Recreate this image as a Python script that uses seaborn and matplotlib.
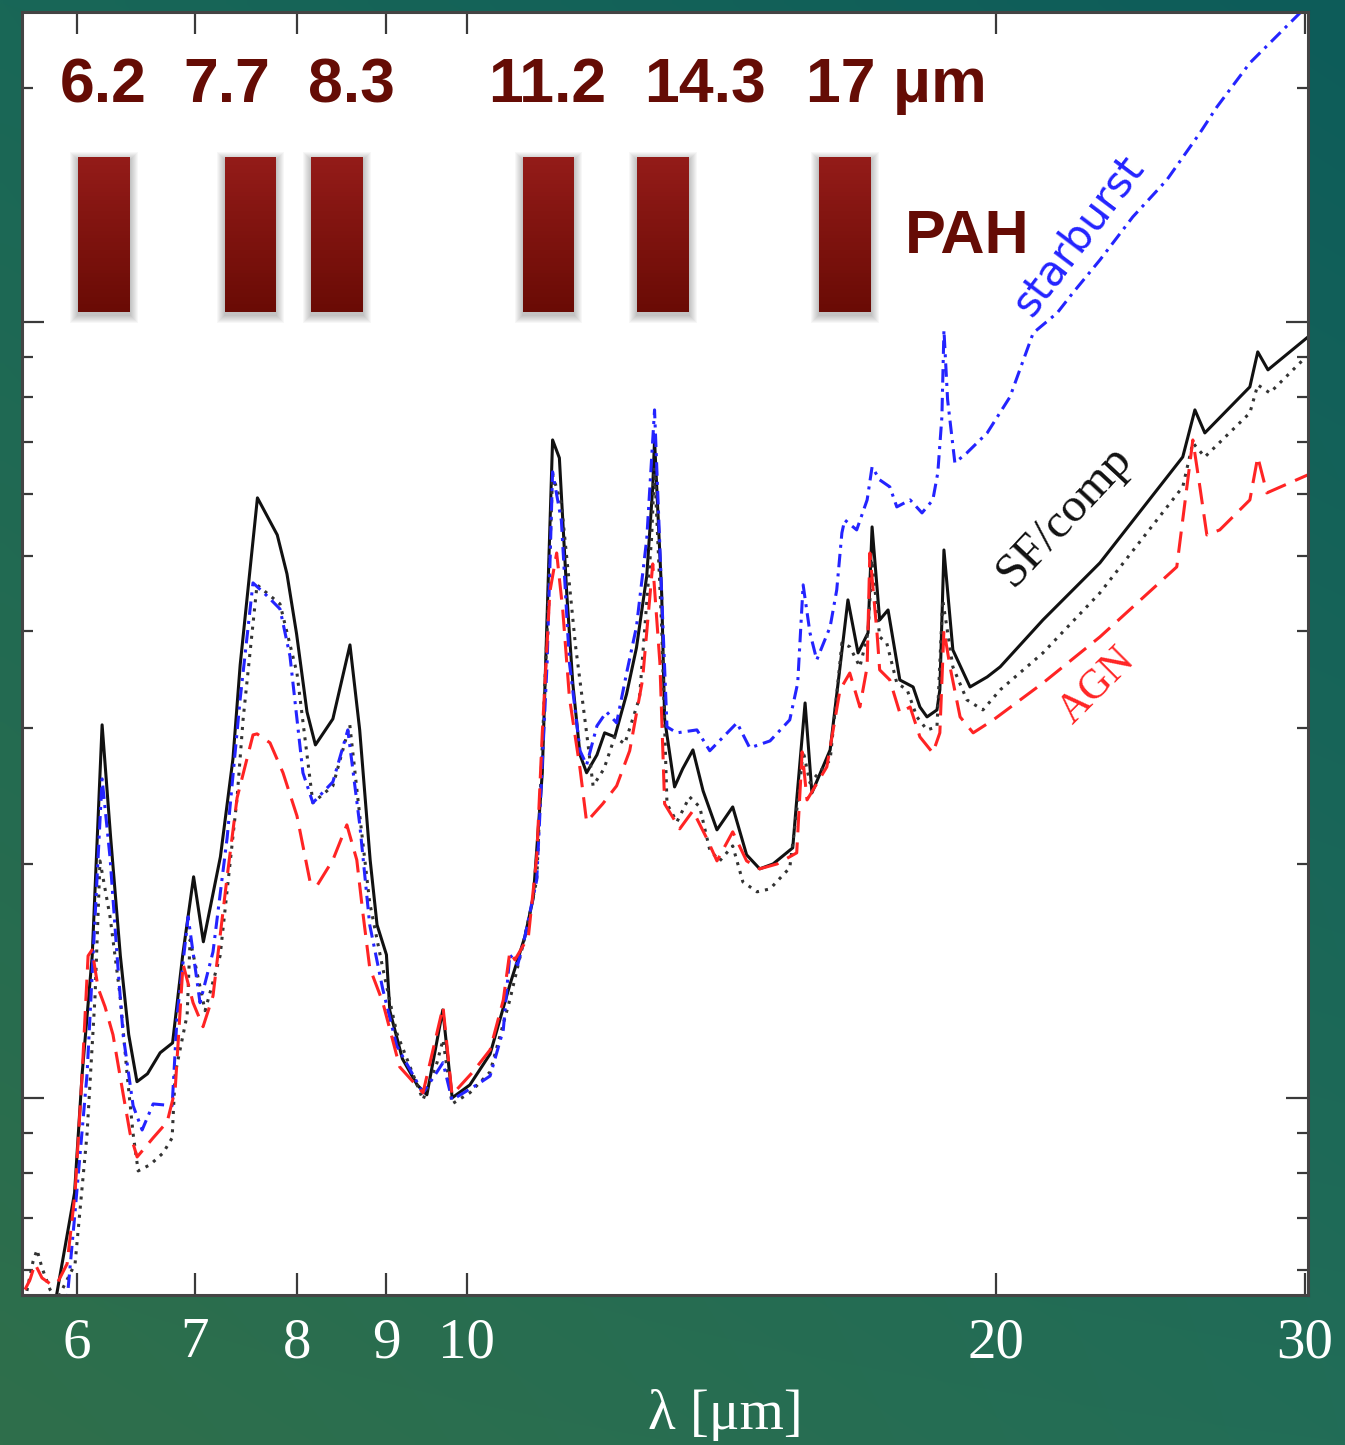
import numpy as np
import pandas as pd
import matplotlib
matplotlib.use("Agg")
import matplotlib.pyplot as plt
import seaborn as sns
from matplotlib.patches import Rectangle
from matplotlib.ticker import FixedLocator, NullLocator, FixedFormatter, LogLocator, NullFormatter
from matplotlib.colors import to_rgb

# ---------------- data ----------------
sf_wave = [5.66, 5.84, 5.98, 6.04, 6.12, 6.20, 6.27, 6.35, 6.42, 6.49, 6.58, 6.69, 6.80, 6.89, 6.99,
           7.08, 7.24, 7.36, 7.43, 7.60, 7.80, 7.90, 8.00, 8.11, 8.20, 8.39, 8.58, 8.69, 8.81, 8.89,
           9.00, 9.04, 9.19, 9.37, 9.49, 9.69, 9.81, 10.04, 10.31, 10.58, 10.79, 10.91, 11.04, 11.12,
           11.19, 11.29, 11.40, 11.49, 11.60, 11.70, 11.86, 11.98, 12.14, 12.33, 12.49, 12.66, 12.76,
           12.79, 12.91, 12.96, 13.13, 13.27, 13.45, 13.63, 13.88, 14.17, 14.43, 14.68, 14.94, 15.33,
           15.41, 15.58, 15.72, 16.10, 16.31, 16.48, 16.70, 16.92, 17.01, 17.18, 17.37, 17.64, 17.95,
           18.11, 18.28, 18.52, 18.59, 18.69, 18.91, 19.34, 19.78, 20.12, 21.28, 22.93, 25.56, 25.97,
           26.31, 27.91, 28.20, 28.58, 30.12]
sf_flux = [0.502, 0.556, 0.754, 1.074, 1.524, 3.025, 2.163, 1.524, 1.206, 1.049, 1.074, 1.143, 1.177,
           1.524, 1.927, 1.589, 2.045, 2.735, 3.614, 5.933, 5.315, 4.734, 3.963, 3.144, 2.850, 3.079,
           3.835, 2.980, 2.026, 1.671, 1.529, 1.295, 1.123, 1.039, 1.009, 1.298, 1.000, 1.039, 1.139,
           1.398, 1.612, 1.810, 2.624, 4.462, 7.046, 6.679, 4.462, 3.425, 2.767, 2.624, 2.767, 2.954,
           2.919, 3.316, 3.801, 4.706, 6.130, 7.046, 4.462, 3.079, 2.516, 2.655, 2.808, 2.487, 2.215,
           2.371, 2.057, 1.973, 2.002, 2.100, 2.421, 3.228, 2.472, 2.808, 3.593, 4.383, 3.745, 3.975,
           5.443, 4.130, 4.254, 3.456, 3.385, 3.190, 3.097, 3.162, 3.356, 5.083, 3.778, 3.385, 3.487,
           3.593, 4.130, 4.892, 6.699, 7.703, 7.194, 8.247, 9.150, 8.675, 9.565]

all_wave = [5.604, 5.663, 5.693, 5.730, 5.791, 5.844, 5.984, 6.079, 6.143, 6.183, 6.265, 6.348, 6.406,
            6.457, 6.500, 6.603, 6.716, 6.796, 6.823, 6.931, 6.958, 7.096, 7.237, 7.400, 7.458, 7.596,
            7.828, 8.004, 8.173, 8.390, 8.578, 8.691, 8.805, 8.956, 9.122, 9.442, 9.617, 9.693, 9.808,
            10.04, 10.31, 10.58, 10.79, 10.96, 11.11, 11.19, 11.32, 11.53, 11.70, 11.80, 11.97, 12.14,
            12.30, 12.54, 12.74, 12.79, 12.91, 13.00, 13.17, 13.39, 13.57, 13.75, 13.93, 14.17, 14.36,
            14.63, 14.88, 15.27, 15.47, 15.54, 15.68, 16.10, 16.35, 16.52, 16.74, 16.92, 17.01, 17.18,
            17.34, 17.57, 17.81, 18.04, 18.28, 18.52, 18.66, 18.91, 19.26, 19.67, 20.12, 21.28, 22.93,
            25.56, 25.90, 26.31, 27.91, 28.20, 28.65, 29.92, 30.12]
all_flux = [0.549, 0.615, 0.637, 0.604, 0.566, 0.549, 0.611, 0.899, 1.353, 2.020, 1.711, 1.353, 1.074,
            0.899, 0.805, 0.820, 0.849, 0.888, 1.074, 1.279, 1.598, 1.295, 1.524, 2.436, 3.070, 4.583,
            4.331, 3.528, 2.400, 2.524, 3.025, 2.309, 1.784, 1.471, 1.213, 0.994, 1.110, 1.188, 0.982,
            1.015, 1.080, 1.337, 1.612, 1.910, 4.010, 6.353, 5.829, 3.835, 2.954, 2.524, 2.655, 2.919,
            2.859, 3.278, 5.253, 6.487, 4.046, 2.393, 2.268, 2.443, 2.371, 2.087, 2.020, 2.112, 1.898,
            1.843, 1.859, 1.979, 2.524, 2.801, 2.546, 2.726, 3.857, 3.813, 3.593, 3.975, 4.935, 3.927,
            3.857, 3.425, 3.356, 3.097, 2.980, 3.007, 4.383, 3.593, 3.258, 3.162, 3.356, 3.745, 4.475,
            6.130, 6.985, 6.699, 7.634, 8.296, 8.101, 8.933, 9.013]

sb_wave = [5.753, 5.922, 5.984, 6.079, 6.143, 6.200, 6.265, 6.323, 6.373, 6.457, 6.534, 6.629, 6.796,
           6.841, 6.940, 7.049, 7.170, 7.304, 7.429, 7.556, 7.696, 7.828, 7.931, 8.067, 8.173, 8.390,
           8.556, 8.691, 8.805, 8.956, 9.122, 9.442, 9.617, 9.693, 9.808, 10.13, 10.31, 10.49, 10.58,
           10.69, 10.79, 10.96, 11.11, 11.19, 11.32, 11.44, 11.60, 11.70, 11.86, 12.01, 12.17, 12.33,
           12.49, 12.66, 12.79, 12.91, 13.00, 13.17, 13.52, 13.75, 14.25, 14.49, 14.88, 15.27, 15.43,
           15.54, 15.68, 15.82, 16.10, 16.24, 16.35, 16.41, 16.67, 16.90, 17.01, 17.18, 17.41, 17.57,
           17.88, 18.16, 18.42, 18.54, 18.64, 18.69, 18.78, 18.96, 19.26, 19.78, 20.38, 21.01, 21.68,
           22.13, 22.93, 23.94, 25.03, 26.14, 26.73, 27.91, 29.80, 30.12]
sb_flux = [0.488, 0.549, 0.713, 1.074, 1.711, 2.577, 2.038, 1.524, 1.206, 0.977, 0.909, 0.982, 0.977,
           1.279, 1.711, 1.326, 1.542, 2.163, 3.258, 4.610, 4.436, 4.267, 3.711, 2.624, 2.400, 2.554,
           2.980, 2.248, 1.671, 1.382, 1.167, 1.015, 1.080, 1.110, 0.994, 1.039, 1.067, 1.224, 1.529,
           1.484, 1.612, 1.910, 3.636, 6.409, 5.541, 3.636, 2.801, 2.686, 3.016, 3.144, 3.043, 3.528,
           4.046, 5.253, 7.703, 4.462, 3.007, 2.954, 2.980, 2.801, 3.043, 2.825, 2.884, 3.070, 3.425,
           4.583, 3.975, 3.668, 4.046, 4.515, 5.347, 5.557, 5.395, 5.897, 6.505, 6.259, 6.130, 5.776,
           5.897, 5.674, 5.897, 6.390, 7.544, 9.766, 7.935, 6.582, 6.780, 7.194, 8.006, 9.679, 10.27,
           10.90, 12.02, 13.66, 15.24, 17.52, 18.93, 21.57, 25.01, 25.39]

agn_wave = [5.604, 5.641, 5.678, 5.730, 5.791, 5.844, 5.922, 5.984, 6.040, 6.087, 6.119, 6.167, 6.224,
            6.289, 6.373, 6.432, 6.491, 6.629, 6.752, 6.823, 6.894, 6.985, 7.077, 7.170, 7.304, 7.400,
            7.556, 7.596, 7.726, 7.859, 8.004, 8.141, 8.216, 8.390, 8.545, 8.657, 8.725, 8.805, 8.956,
            9.158, 9.442, 9.693, 9.808, 10.08, 10.31, 10.49, 10.58, 10.65, 10.84, 10.96, 11.04, 11.15,
            11.25, 11.34, 11.44, 11.60, 11.70, 11.95, 12.17, 12.38, 12.59, 12.76, 12.88, 12.96, 13.22,
            13.45, 13.70, 13.88, 14.17, 14.43, 14.68, 15.02, 15.41, 15.52, 15.62, 16.03, 16.31, 16.52,
            16.74, 16.90, 16.96, 17.12, 17.18, 17.41, 17.64, 17.88, 18.11, 18.42, 18.59, 18.69, 18.84,
            19.09, 19.42, 19.94, 21.28, 22.93, 25.36, 25.90, 26.14, 26.38, 26.83, 27.91, 28.20, 28.54,
            30.12]
agn_flux = [0.566, 0.583, 0.611, 0.586, 0.576, 0.576, 0.611, 0.754, 1.074, 1.524, 1.551, 1.386, 1.310,
            1.206, 1.012, 0.899, 0.839, 0.888, 0.931, 1.024, 1.488, 1.326, 1.235, 1.353, 1.927, 2.436,
            2.936, 2.945, 2.868, 2.624, 2.309, 1.904, 1.876, 2.026, 2.248, 2.026, 1.736, 1.471, 1.329,
            1.096, 1.015, 1.310, 1.009, 1.080, 1.153, 1.337, 1.542, 1.506, 1.612, 2.045, 2.954, 4.488,
            5.038, 4.254, 3.278, 2.655, 2.268, 2.393, 2.524, 2.801, 3.456, 4.877, 3.636, 2.393, 2.222,
            2.344, 2.157, 2.020, 2.202, 2.020, 1.973, 2.002, 2.069, 2.792, 2.421, 2.670, 3.356, 3.528,
            3.190, 3.593, 5.038, 3.975, 3.561, 3.456, 3.134, 3.190, 2.919, 2.783, 2.954, 4.010, 3.593,
            3.097, 2.954, 3.070, 3.425, 3.927, 4.834, 7.046, 6.130, 5.315, 5.395, 5.897, 6.699, 6.021,
            6.353]

templates = ["SF/comp", "all", "starburst", "AGN"]
xtick_values = [6, 7, 8, 9, 10, 20, 30]
xtick_labels = ["6", "7", "8", "9", "10", "20", "30"]
pah_labels = ["6.2", "7.7", "8.3", "11.2", "14.3", "17 μm"]

# ---------------- styling / layout constants ----------------
W, H = 1345, 1445
palette = {"SF/comp": "#111111", "all": "#333333", "starburst": "#2424ff", "AGN": "#ff2424"}
dash_map = {"SF/comp": "", "all": (1.0, 2.0), "starburst": (4.4, 2.0, 1.0, 2.0), "AGN": (7.0, 3.3)}
pah_label_x = [0.063, 0.1594, 0.2558, 0.4082, 0.5311, 0.6796]
pah_bar_x = [0.0634, 0.1777, 0.2453, 0.4094, 0.4988, 0.6396]
bar_w, bar_y0, bar_y1 = 0.0404, 0.766, 0.887
dark_red = "#650c05"

sns.set_theme(style="white")
plt.rcParams['font.family'] = ['DejaVu Sans']

fig = plt.figure(figsize=(W / 100, H / 100), dpi=100)

# gradient background
bg = fig.add_axes([0, 0, 1, 1], zorder=-10)
tl, tr = np.array(to_rgb("#196757")), np.array(to_rgb("#0d5c5a"))
bl, br = np.array(to_rgb("#2f6f4b")), np.array(to_rgb("#226d57"))
u = np.linspace(0, 1, 200)[None, :, None]
v = np.linspace(0, 1, 200)[:, None, None]
grad = (1 - v) * ((1 - u) * tl + u * tr) + v * ((1 - u) * bl + u * br)
bg.imshow(grad, extent=[0, 1, 0, 1], aspect="auto", interpolation="bilinear")
bg.axis("off")

ax = fig.add_axes([22 / W, (H - 1295) / H, 1286 / W, 1283 / H])
ax.set_facecolor("white")

frames = [pd.DataFrame({"wavelength": w, "flux": f, "template": t})
          for t, w, f in zip(templates, [sf_wave, all_wave, sb_wave, agn_wave],
                             [sf_flux, all_flux, sb_flux, agn_flux])]
df = pd.concat(frames, ignore_index=True)

sns.lineplot(data=df, x="wavelength", y="flux", hue="template", style="template",
             hue_order=templates, style_order=templates, palette=palette, dashes=dash_map,
             estimator=None, sort=False, legend=False, linewidth=2.2, ax=ax)

ax.set_xscale("log")
ax.set_yscale("log")
ax.set_xlim(5.582, 30.12)
ax.set_ylim(0.557, 25.09)

ax.xaxis.set_major_locator(FixedLocator(xtick_values))
ax.xaxis.set_major_formatter(FixedFormatter(xtick_labels))
ax.xaxis.set_minor_locator(NullLocator())
ax.yaxis.set_major_locator(LogLocator(base=10))
ax.yaxis.set_minor_locator(LogLocator(base=10, subs=np.arange(2, 10)))
ax.yaxis.set_major_formatter(NullFormatter())
ax.yaxis.set_minor_formatter(NullFormatter())
ax.tick_params(which="both", direction="in", top=True, right=True, left=True, bottom=True,
               color="#3a3a3a")
ax.tick_params(which="major", length=16, width=1.6)
ax.tick_params(which="minor", length=8, width=1.6)
ax.tick_params(axis="x", which="major", labelsize=41, labelcolor="white", pad=16,
               labelfontfamily="Liberation Serif")
ax.set_ylabel("")
ax.set_xlabel("λ [μm]", fontsize=41, color="white", family="Liberation Serif")
ax.xaxis.set_label_coords(0.547, -0.0935)
ax.xaxis.label.set_va("center")
for s in ax.spines.values():
    s.set_color("#444444")
    s.set_linewidth(2.2)
    s.set_visible(True)

# PAH band markers
top_c, bot_c = np.array(to_rgb("#931b18")), np.array(to_rgb("#6a0b05"))
nstrip = 40
px_x, px_y = 1 / 1286, 1 / 1283
for xc in pah_bar_x:
    x0 = xc - bar_w / 2
    for k in range(1, 9):
        ax.add_patch(Rectangle((x0 - k * px_x, bar_y0 - (k + 3) * px_y),
                               bar_w + 2 * k * px_x, (bar_y1 - bar_y0) + 2 * k * px_y,
                               transform=ax.transAxes, facecolor="black", alpha=0.03,
                               edgecolor="none", zorder=3))
    hs = (bar_y1 - bar_y0) / nstrip
    for i in range(nstrip):
        t = i / (nstrip - 1)
        col = bot_c * (1 - t) + top_c * t
        ax.add_patch(Rectangle((x0, bar_y0 + i * hs), bar_w, hs * 1.05, transform=ax.transAxes,
                               facecolor=col, edgecolor="none", zorder=4))

for lab, xl in zip(pah_labels, pah_label_x):
    ax.text(xl, 0.9425, lab, transform=ax.transAxes, ha="center", va="center",
            fontsize=45, fontweight="bold", color=dark_red, family="Liberation Sans", zorder=5)
ax.text(0.7348, 0.8246, "PAH", transform=ax.transAxes, ha="center", va="center",
        fontsize=44, fontweight="bold", color=dark_red, family="Liberation Sans", zorder=5)

# curve annotations
ax.text(0.8212, 0.8262, "starburst", transform=ax.transAxes, ha="center", va="center",
        rotation=53, rotation_mode="anchor", fontsize=30, color="#2424ff", family="DejaVu Sans")
ax.text(0.8110, 0.6072, "SF/comp", transform=ax.transAxes, ha="center", va="center",
        rotation=47, rotation_mode="anchor", fontsize=35, color="#111111", family="Liberation Serif")
ax.text(0.8359, 0.4747, "AGN", transform=ax.transAxes, ha="center", va="center",
        rotation=45, rotation_mode="anchor", fontsize=30, color="#ff2424", family="Liberation Serif")

fig.savefig("out.png", dpi=100)
